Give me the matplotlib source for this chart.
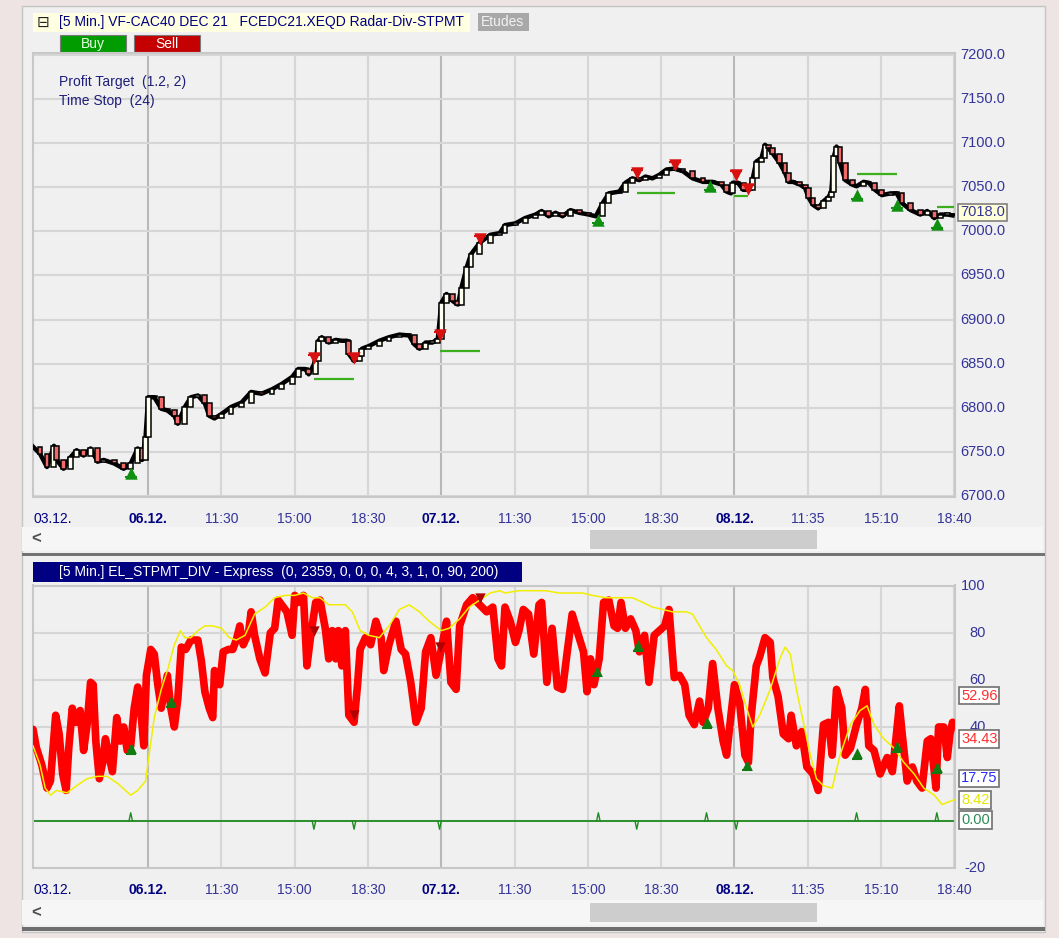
import matplotlib.pyplot as plt
from matplotlib.patches import Rectangle

W, H = 1059, 938

# x axis: 5-minute bar index counted from the left edge of the chart
x_tick_bars = [0, 66, 108, 150, 192, 234, 276, 318, 360, 402, 444, 486, 528]
x_tick_labels = ['03.12.', '06.12.', '11:30', '15:00', '18:30', '07.12.', '11:30',
                 '15:00', '18:30', '08.12.', '11:35', '15:10', '18:40']
day_labels = ['03.12.', '06.12.', '07.12.', '08.12.']
day_bars = [66, 234, 402]
price_ticks = [6700, 6750, 6800, 6850, 6900, 6950, 7000, 7050, 7100, 7150, 7200]
ind_ticks = [-20, 0, 20, 40, 60, 80, 100]
ind_ticks_covered = [0, 20]   # hidden behind the value boxes in the original

# CAC40 future, sampled closes
price_bar = [0, 4, 8, 12, 13.5, 17.5, 21.5, 25, 29, 33, 37, 40.5, 46.5, 52, 56, 60, 62.5, 64.5,
             66, 69.5, 73.5, 77, 81, 83, 87, 90.5, 94.5, 98.5, 101, 104, 108, 113.5, 119.5, 125,
             131, 137, 142.5, 148.5, 152, 156, 158, 162, 163.5, 165.5, 169.5, 173.5, 177, 180,
             181, 184, 187, 188.5, 192.5, 198.5, 204, 210, 215.5, 218.5, 221.5, 225, 229, 232,
             234, 237, 240.5, 243.5, 245.5, 248.5, 251, 256, 262, 267.5,
             270.5, 276.5, 282, 288, 291.5, 295.5, 299.5, 303.5, 308, 313, 318.5, 322.5, 326.5,
             330, 336, 339.5, 343.5, 347.5, 351, 355, 359, 363, 367.5, 372.5, 378, 384, 389.5,
             394.5, 397.5, 400, 401, 404, 407, 410.5, 412.5, 414.5, 417.5, 419.5, 421.5, 424,
             428, 431, 433, 435.5, 439.5, 442.5, 444.5, 447, 450, 453, 456, 457.5, 459, 460.5,
             462.5, 465.5, 469.5, 472, 476, 479, 482.5, 486.5, 491.5, 495, 498, 503, 508.5,
             512.5, 516.5, 520, 524, 527]
price_close = [6756, 6748, 6733, 6757, 6741, 6731, 6744, 6752, 6746, 6754, 6739, 6741, 6737, 6731, 6737, 6754, 6741, 6767,
               6812, 6812, 6799, 6797, 6791, 6782, 6801, 6812, 6814, 6805, 6791, 6788, 6793, 6801, 6806, 6818,
               6816, 6821, 6827, 6835, 6844, 6844, 6838, 6853, 6876, 6880, 6874, 6877, 6876, 6876,
               6861, 6853, 6859, 6867, 6870, 6876, 6880, 6883, 6882, 6872, 6867, 6874, 6874, 6878,
               6919, 6929, 6921, 6917, 6936, 6959, 6974, 6987, 6996, 6998,
               7007, 7009, 7015, 7019, 7023, 7017, 7021, 7017, 7024, 7021, 7019, 7017, 7032,
               7043, 7045, 7055, 7060, 7058, 7062, 7060, 7064, 7070, 7071, 7068, 7060, 7056, 7056,
               7053, 7045, 7043, 7055, 7055, 7047, 7047, 7060, 7079, 7083, 7098, 7094, 7088,
               7077, 7066, 7056, 7056, 7053, 7049, 7038, 7030, 7026, 7034, 7039, 7045, 7085, 7096,
               7077, 7058, 7053, 7051, 7056, 7055, 7047, 7041, 7043, 7043, 7032, 7024, 7019,
               7023, 7015, 7019, 7019, 7018]
last_price = 7018.0

buy_bar = [56, 324, 388, 472, 495, 518]
buy_price = [6726, 7013, 7051, 7041, 7030, 7008]
sell_bar = [161, 184, 233, 256, 346, 368, 403, 410]
sell_price = [6856, 6857, 6882, 6991, 7066, 7075, 7064, 7048]
target_start = [161, 233, 346, 402, 472, 518]
target_end = [184, 256, 368, 410, 495, 528]
target_price = [6833, 6864, 7043, 7040, 7065, 7027]

# EL_STPMT_DIV indicator
red_bar = [0, 2, 5, 8, 10, 13, 15, 17, 19, 20.5,
           22.5, 24.5, 27, 29, 31, 33, 34.5, 36, 38, 40,
           41.5, 43.5, 45.5, 48, 50, 52, 54, 56, 58, 60,
           62, 63.5, 65, 67.5, 69.5, 71.5, 73.5, 75, 77, 79,
           81, 83, 85, 87.5, 90.5, 94.5, 96.5, 98.5, 101, 103,
           104, 107, 109, 112, 114.5, 116.5, 118.5, 120.5, 123.5, 125,
           127, 130, 133, 136, 138.5, 140.5, 143.5, 145.5, 148.5, 150,
           152, 155, 157, 159, 162, 164.5, 167.5, 169.5, 171.5, 173.5,
           175, 177, 179, 181, 184, 186, 187.5, 190.5, 193.5, 196.5,
           199.5, 201, 204, 208, 211, 213.5, 216.5, 219.5, 222.5, 225,
           228, 231, 234, 237, 239.5, 242.5, 244.5, 248.5, 252, 256,
           260, 263.5, 266.5, 268.5,
           270.5, 273.5, 276.5, 278.5, 281, 284, 287, 290, 291.5, 294.5,
           297.5, 300.5, 303.5, 306, 309, 313, 315.5, 317.5, 319.5, 321.5,
           324.5, 327, 330, 333, 335, 337, 339.5, 342.5, 345.5, 347.5,
           350.5, 353, 356, 359, 362, 364.5, 367.5, 370.5, 373.5, 376,
           379, 382, 384, 387, 389.5, 392.5, 395.5, 397.5, 400, 402,
           405, 408, 410, 411.5, 414.5, 416.5, 419.5, 422.5, 424, 427,
           430, 433, 434.5, 437.5, 440.5, 443.5, 447, 450, 453, 456,
           458, 460.5, 463.5, 465.5, 468.5, 472, 475, 477, 479, 482,
           485.5, 489.5, 492.5, 494, 496.5, 498, 501, 504, 506.5, 509.5,
           512.5, 514.5, 517.5, 519, 522, 524, 525.5, 527]
red_val = [39, 31, 24, 14, 17, 45, 37, 20, 13, 31,
           48, 42, 47, 30, 41, 59, 58, 34, 18, 25,
           35, 28, 21, 44, 34, 40, 30, 32, 48, 57,
           45, 32, 62, 73, 71, 58, 48, 54, 62, 48,
           40, 52, 74, 73, 77, 77, 68, 55, 48, 44,
           64, 58, 72, 73, 73, 77, 83, 75, 80, 89,
           79, 69, 63, 80, 82, 94, 91, 89, 79, 96,
           93, 96, 66, 78, 93, 94, 82, 69, 81, 69,
           81, 66, 81, 45, 42, 58, 73, 78, 75, 85,
           78, 64, 75, 85, 73, 71, 59, 42, 48, 72,
           78, 62, 73, 85, 59, 56, 83, 92, 95, 92,
           89, 91, 69, 66,
           91, 85, 76, 81, 90, 88, 71, 92, 93, 59,
           82, 57, 56, 71, 88, 78, 72, 55, 69, 58,
           69, 93, 94, 83, 82, 93, 82, 86, 81, 72,
           79, 59, 79, 81, 83, 90, 61, 62, 58, 45,
           41, 51, 42, 48, 67, 48, 34, 28, 45, 58,
           50, 28, 25, 44, 66, 70, 78, 76, 61, 53,
           37, 35, 45, 32, 38, 23, 20, 13, 41, 42,
           28, 56, 48, 28, 31, 41, 48, 56, 32, 30,
           20, 27, 21, 31, 49, 38, 17, 23, 17, 14,
           34, 35, 14, 40, 40, 27, 37, 42]
yel_bar = [0, 4, 7, 10, 13.5, 19.5, 25, 31, 37, 42.5,
           48.5, 53, 56, 60, 64.5, 66.5, 69.5, 73.5, 77, 81,
           84.5, 87, 90.5, 94.5, 98.5, 103, 108, 112.5, 116.5, 121.5,
           127, 133, 138.5, 144.5, 150, 155, 160, 164.5, 169.5, 173.5,
           179, 183, 187.5, 192.5, 198.5, 204, 210, 215.5, 221.5, 227,
           234, 238.5, 244.5, 250, 256, 262, 267.5,
           270.5, 278.5, 286, 293.5, 301.5, 309, 315, 320.5, 328, 336,
           343.5, 349.5, 355, 361, 366.5, 374.5, 378, 382, 386, 391.5,
           397.5, 401, 405, 409, 412.5, 416.5, 422.5, 428, 431, 434,
           437.5, 441.5, 445.5, 449, 453, 458, 462.5, 468.5, 474, 478,
           482, 487.5, 493.5, 499, 505, 510.5, 516.5, 521, 526, 528]
yel_val = [32, 24, 14, 11, 13, 12, 15, 18, 19, 19,
           16, 13, 11, 13, 17, 28, 44, 56, 64, 75,
           81, 78, 78, 81, 83, 83, 82, 78, 77, 79,
           88, 91, 95, 96, 96, 97, 95, 95, 92, 92,
           92, 89, 81, 79, 78, 83, 90, 92, 89, 85,
           81, 82, 86, 91, 94, 97, 98,
           97, 98, 98, 98, 97, 97, 97, 96, 95, 95,
           95, 93, 91, 90, 89, 89, 88, 83, 78, 73,
           66, 64, 58, 48, 40, 45, 56, 69, 74, 71,
           56, 42, 28, 18, 15, 14, 28, 41, 47, 49,
           41, 35, 31, 25, 20, 14, 11, 7, 8.5, 9]
ind_buy_bar = [56, 79, 323, 347, 386, 409, 472, 495, 518]
ind_buy_val = [31, 51, 64, 75, 42, 24, 29, 32, 23]
ind_sell_bar = [161, 184, 233, 256]
ind_sell_val = [81, 45, 74, 95]
spike_up = [56, 324, 386, 472, 518]
spike_down = [161, 184, 233, 346, 403]
last_values = [52.96, 34.43, 17.75, 8.42, 0.00]
last_colors = ['#ff3030', '#ff3030', '#2a2aff', '#e6e600', '#2e8b57']

TICK_BLUE = '#34349a'
NAVY = '#000080'
FONT = ['Liberation Sans', 'DejaVu Sans']
plt.rcParams['font.family'] = FONT

fig = plt.figure(figsize=(W / 100, H / 100), dpi=100, facecolor='#efe4e4')


def box(x0, y0, x1, y1, **kw):
    kw.setdefault('lw', 0)
    fig.patches.append(Rectangle((x0 / W, 1 - y1 / H), (x1 - x0) / W, (y1 - y0) / H,
                                 transform=fig.transFigure, **kw))


def label(x, y, s, **kw):
    fig.text(x / W, 1 - y / H, s, va='center', **kw)


# window chrome
box(22, 6, 1045, 932, facecolor='#f0f0f0', edgecolor='#c4c4c4', lw=1, zorder=-5)
box(33, 13, 470, 32, facecolor='#ffffe1', zorder=-4)
box(478, 13, 529, 31, facecolor='#a8a8a8', zorder=-4)
box(60, 35, 126, 52, facecolor='#009c00', edgecolor='#7a7a7a', lw=0.8, zorder=-4)
box(134, 35, 200, 52, facecolor='#c40000', edgecolor='#7a7a7a', lw=0.8, zorder=-4)
box(22, 527, 1043, 551, facecolor='#f6f6f6', zorder=-4)
box(590, 530, 817, 549, facecolor='#cdcdcd', zorder=-3)
box(22, 553, 1045, 556, facecolor='#747474', zorder=-3)
box(33, 562, 522, 582, facecolor=NAVY, zorder=-4)
box(22, 900, 1043, 925, facecolor='#f6f6f6', zorder=-4)
box(590, 903, 817, 922, facecolor='#cdcdcd', zorder=-3)
box(22, 927, 1045, 931, facecolor='#6e6e6e', zorder=-3)

label(43, 22, '\u229f', ha='center', fontsize=11, color='#202020', family='DejaVu Sans')
label(59, 22, '[5 Min.] VF-CAC40 DEC 21   FCEDC21.XEQD Radar-Div-STPMT', ha='left',
      fontsize=10, color=NAVY)
label(503, 22, 'Etudes', ha='center', fontsize=10, color='#f2f2f2')
label(93, 44, 'Buy', ha='center', fontsize=10, color='#e8ffe8')
label(167, 44, 'Sell', ha='center', fontsize=10, color='white')
label(59, 82, 'Profit Target  (1.2, 2)', ha='left', fontsize=10, color='#1e1e7a')
label(59, 101, 'Time Stop  (24)', ha='left', fontsize=10, color='#1e1e7a')
label(59, 572, '[5 Min.] EL_STPMT_DIV - Express  (0, 2359, 0, 0, 0, 4, 3, 1, 0, 90, 200)',
      ha='left', fontsize=10, color='white')
label(36, 539, '<', ha='center', fontsize=12, color='#505050', fontweight='bold')
label(36, 913, '<', ha='center', fontsize=12, color='#505050', fontweight='bold')

ax1 = fig.add_axes([33 / W, 1 - 497 / H, 922 / W, 444 / H], facecolor='#f0f0f0')
ax2 = fig.add_axes([33 / W, 1 - 868 / H, 922 / W, 282.5 / H], facecolor='#f0f0f0')


def setup(ax, yticks, ylim):
    ax.set_xlim(0, 528.4)
    ax.set_ylim(*ylim)
    ax.set_xticks([])
    ax.set_yticks([])
    for s in ax.spines.values():
        s.set_color('#c8c8c8')
        s.set_linewidth(1.5)
    for b in x_tick_bars[1:]:
        day = b in day_bars
        ax.axvline(b, color='#b8b8b8' if day else '#d6d6d6', lw=1.5, zorder=0)
    for t in yticks:
        ax.axhline(t, color='#d6d6d6', lw=1.5, zorder=0)
    for b, s in zip(x_tick_bars, x_tick_labels):
        day = s in day_labels
        ax.annotate(s, xy=(b, 0), xycoords=('data', 'axes fraction'), xytext=(0, -22),
                    textcoords='offset pixels', ha='left' if b == 0 else 'center', va='center',
                    fontsize=10, color=NAVY if day else TICK_BLUE,
                    fontweight='bold' if day and b > 0 else 'normal')


# ---- price panel ----
setup(ax1, price_ticks, (6699, 7202))
for t in price_ticks:
    ax1.annotate(f'{t:.1f}', xy=(1, t), xycoords=('axes fraction', 'data'), xytext=(5, 0),
                 textcoords='offset pixels', ha='left', va='center', fontsize=10.5,
                 color=TICK_BLUE)

ax1.plot(price_bar, price_close, color='black', lw=3.2, zorder=3, solid_joinstyle='round')
for i in range(1, len(price_bar)):
    o, c = price_close[i - 1], price_close[i]
    lo, hi = min(o, c), max(o, c)
    col = '#fffff0' if c >= o else '#f06a6a'
    ax1.add_patch(Rectangle((price_bar[i] - 1.4, lo), 2.8, max(hi - lo, 1.2), facecolor=col,
                            edgecolor='black', lw=1.1, zorder=4))

ax1.hlines(target_price, target_start, target_end, color='#3cb01c', lw=1.6, zorder=5)
ax1.scatter(buy_bar, buy_price, marker='^', s=80, color='#109010', zorder=6, lw=0)
ax1.scatter(buy_bar, [p - 4 for p in buy_price], marker='_', s=70, color='#109010', zorder=6)
ax1.scatter(sell_bar, sell_price, marker='v', s=80, color='#d81010', zorder=6, lw=0)
ax1.scatter(sell_bar, [p + 4 for p in sell_price], marker='_', s=70, color='#d81010', zorder=6)
ax1.annotate(f'{last_price:.1f}', xy=(1, last_price), xycoords=('axes fraction', 'data'),
             xytext=(5, 3), textcoords='offset pixels', ha='left', va='center', fontsize=10.5,
             color=TICK_BLUE, zorder=10, annotation_clip=False,
             bbox=dict(boxstyle='square,pad=0.12', fc='#ffffd8', ec='#808080', lw=1.2))

# ---- indicator panel ----
setup(ax2, ind_ticks, (-20, 100.2))
for t in ind_ticks:
    if t in ind_ticks_covered:
        continue
    ax2.annotate(f'{t:d}', xy=(1, t), xycoords=('axes fraction', 'data'), xytext=(31, 0),
                 textcoords='offset pixels', ha='right', va='center', fontsize=10.5,
                 color=TICK_BLUE)

ax2.axhline(0, color='#1f8a1f', lw=1.3, zorder=2)
for b in spike_up:
    ax2.plot([b - 1, b, b + 1], [0, 3.5, 0], color='#1f8a1f', lw=1, zorder=2)
for b in spike_down:
    ax2.plot([b - 1, b, b + 1], [0, -3.5, 0], color='#1f8a1f', lw=1, zorder=2)

ax2.plot(red_bar, red_val, color='#ff0000', lw=5.5, zorder=3, solid_joinstyle='round',
         solid_capstyle='round')
ax2.plot(yel_bar, yel_val, color='#f2ee00', lw=1.1, zorder=4)
ax2.scatter(ind_buy_bar, ind_buy_val, marker='^', s=60, color='#137a13', zorder=5, lw=0)
ax2.scatter(ind_buy_bar, [v - 2.5 for v in ind_buy_val], marker='_', s=60, color='#137a13',
            zorder=5)
ax2.scatter(ind_sell_bar, ind_sell_val, marker='v', s=55, color='#b00000', zorder=5, lw=0)

for v, c in zip(last_values, last_colors):
    ax2.annotate(f'{v:.2f}', xy=(1, v), xycoords=('axes fraction', 'data'), xytext=(6, 1),
                 textcoords='offset pixels', ha='left', va='center', fontsize=10.5, color=c,
                 zorder=10, annotation_clip=False,
                 bbox=dict(boxstyle='square,pad=0.12', fc='white', ec='#707070', lw=1.2))

fig.savefig('out.png', dpi=100, facecolor=fig.get_facecolor())
